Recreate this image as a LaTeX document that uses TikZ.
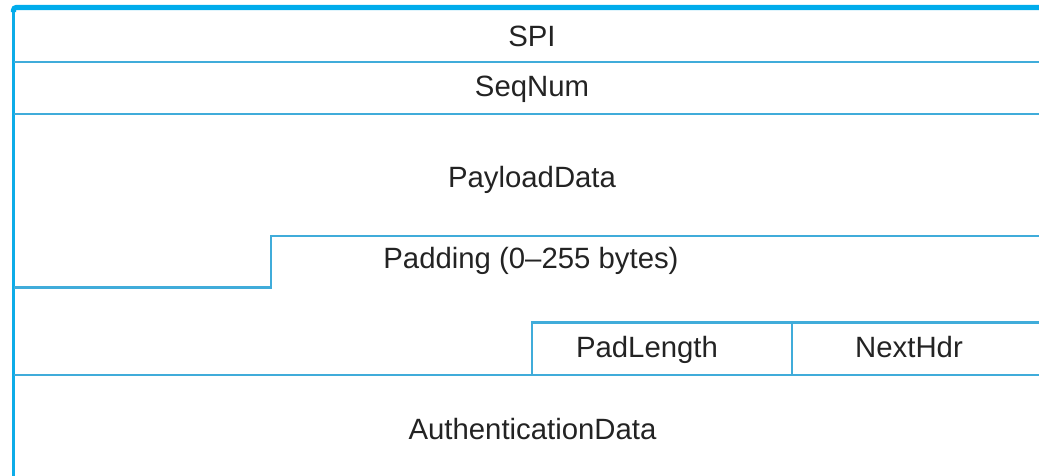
\documentclass[tikz,border=0pt]{standalone}
\usepackage{fontspec}
\setmainfont{Liberation Sans}
\definecolor{topblue}{RGB}{0,172,236}
\definecolor{lineblue}{RGB}{64,172,218}
\definecolor{txt}{RGB}{35,35,35}
\begin{document}
\begin{tikzpicture}[x=0.75pt,y=-0.75pt,
  rule/.style={draw=lineblue,line width=1.6pt},
  toprule/.style={draw=topblue,line width=3.8pt},
  edge/.style={draw=topblue!80!lineblue,line width=1.9pt},
  lbl/.style={anchor=base,inner sep=0pt,text=txt,font=\fontsize{22}{26}\selectfont}]
\useasboundingbox (0,0) rectangle (1039,475);
% frame
\coordinate (tl) at (13.5,7.5);
\coordinate (tr) at (1045,7.5);
\coordinate (bl) at (13.5,480);
\draw[edge] (bl) -- (13.5,10);
\draw[toprule,rounded corners=2pt] (13.5,12) -- (tl) -- (tr);
% full rules
\draw[rule] (13.5,62) -- (1045,62);
\draw[rule] (13.5,114) -- (1045,114);
% padding step
\draw[rule] (13.5,287.5) -- (271,287.5) -- (271,236) -- (1045,236);
% pad length / next header step
\draw[rule] (532,375) -- (532,322.5) -- (1045,322.5);
\draw[rule] (792,322.5) -- (792,375);
\draw[rule] (13.5,375) -- (1045,375);
% labels
\node[lbl] (spi) at (532,46) {SPI};
\node[lbl] (seq) at (532,96.5) {SeqNum};
\node[lbl] (payload) at (532,187.5) {PayloadData};
\node[lbl] (pad) at (531,268) {Padding (0–255 bytes)};
\node[lbl] (padlen) at (647,357) {PadLength};
\node[lbl] (next) at (909,357) {NextHdr};
\node[lbl] (auth) at (532.5,439) {AuthenticationData};
\end{tikzpicture}
\end{document}
